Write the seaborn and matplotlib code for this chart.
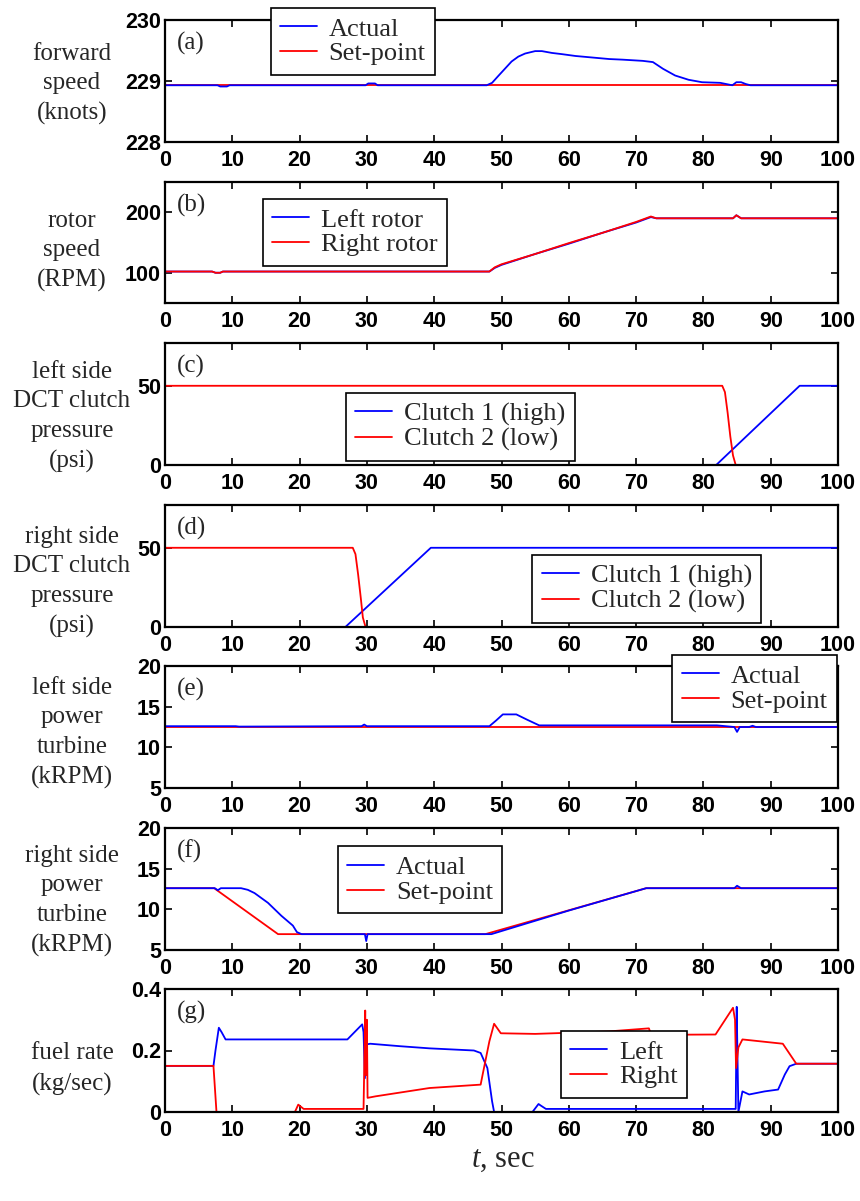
import matplotlib
matplotlib.use("Agg")
import matplotlib.pyplot as plt
import seaborn as sns

# ---- data ----
# (a) forward speed, knots
a_t = [0, 7.8, 8.2, 9.2, 9.6, 29.8, 30.2, 31.2, 31.6, 47.8, 48.6, 49.5, 50.5, 51.5, 52.5,
       53.5, 55, 56, 57.5, 59, 61, 63, 66, 68, 71, 72.5, 74, 75.8, 77.8, 79.8, 82.5, 84.3,
       84.9, 85.6, 86.3, 87, 100]
a_actual = [228.93, 228.93, 228.91, 228.91, 228.93, 228.93, 228.96, 228.96, 228.93, 228.93,
            228.97, 229.08, 229.2, 229.32, 229.4, 229.45, 229.49, 229.49, 229.46, 229.44,
            229.41, 229.39, 229.36, 229.35, 229.33, 229.31, 229.2, 229.09, 229.02, 228.98,
            228.97, 228.93, 228.98, 228.98, 228.95, 228.93, 228.93]
a_sp_t = [0, 100]
a_setpoint = [228.93, 228.93]

# (b) rotor speed, RPM
b_t = [0, 7.0, 7.5, 8.2, 8.6, 48.2, 49, 50, 55, 60, 65, 70, 72.2, 73, 84.4, 84.9, 85.6, 100]
b_left = [102, 102, 100, 100, 102, 102, 108, 113, 131, 148, 166, 183, 192, 190, 190, 195, 190, 190]
b_right = [102, 102, 100, 100, 102, 102, 109, 114, 131, 149, 166, 184, 193, 190, 190, 195, 190, 190]

# (c) left side DCT clutch pressure, psi
c_t1 = [0, 81.9, 94.3, 100]
c_clutch1 = [0, 0, 50, 50]
c_t2 = [0, 82.8, 83.2, 83.6, 84.0, 84.4, 84.8, 100]
c_clutch2 = [50, 50, 46, 33, 18, 6, 0, 0]

# (d) right side DCT clutch pressure, psi
d_t1 = [0, 26.8, 39.5, 100]
d_clutch1 = [0, 0, 50, 50]
d_t2 = [0, 27.9, 28.3, 28.7, 29.1, 29.4, 29.8, 100]
d_clutch2 = [50, 50, 46, 33, 18, 6, 0, 0]

# (e) left side power turbine, kRPM
e_t = [0, 10.5, 11, 29.2, 29.6, 30.0, 48.2, 49.2, 50.2, 52.2, 53.8, 55.6, 82.0, 84.6, 85.0,
       85.4, 86.8, 87.3, 87.8, 100]
e_actual = [12.6, 12.6, 12.55, 12.6, 12.8, 12.6, 12.6, 13.3, 14.05, 14.05, 13.4, 12.7, 12.7,
            12.5, 11.9, 12.5, 12.5, 12.65, 12.5, 12.5]
e_sp_t = [0, 100]
e_setpoint = [12.5, 12.5]

# (f) right side power turbine, kRPM
f_t = [0, 7.4, 7.85, 8.3, 11.3, 12.3, 13.3, 15.3, 17.3, 19.0, 19.6, 20.3, 29.7, 29.9, 30.1,
       48.5, 60, 71.5, 84.6, 85.0, 85.6, 100]
f_actual = [12.6, 12.6, 12.35, 12.6, 12.6, 12.4, 12.0, 10.8, 9.2, 8.0, 7.2, 6.95, 6.95, 6.1,
            6.95, 6.95, 9.85, 12.6, 12.6, 12.9, 12.6, 12.6]
f_sp_t = [0, 7.3, 16.8, 47.6, 71.5, 100]
f_setpoint = [12.6, 12.6, 6.95, 6.95, 12.6, 12.6]

# (g) fuel rate, kg/sec
g_t_left = [0, 7.2, 7.5, 8.0, 8.4, 9.0, 27.1, 29.3, 29.5, 29.7, 30.0, 30.5, 34.9, 39.3, 45.9,
            46.9, 47.9, 48.6, 48.9, 54.6, 55.5, 55.9, 56.6, 84.8, 84.95, 85.05, 85.2, 85.8,
            86.8, 89.1, 91.1, 92.1, 92.8, 93.8, 100]
g_left = [0.15, 0.15, 0.2, 0.274, 0.26, 0.236, 0.236, 0.285, 0.26, 0.11, 0.22, 0.222, 0.214,
          0.207, 0.2, 0.192, 0.143, 0.035, 0, 0, 0.026, 0.02, 0.01, 0.01, 0.342, 0.2, 0.0,
          0.067, 0.057, 0.067, 0.073, 0.122, 0.149, 0.157, 0.157]
g_t_right = [0, 7.2, 7.65, 19.3, 19.8, 20.6, 29.5, 29.75, 29.85, 30.0, 30.1, 31.3, 39.3, 46.9,
             47.2, 48.2, 48.9, 49.9, 55, 65.9, 71.9, 72.3, 72.8, 81.8, 84.4, 84.7, 84.85, 85.2,
             85.8, 91.8, 93.8, 100]
g_right = [0.15, 0.15, 0, 0, 0.024, 0.01, 0.01, 0.33, 0.12, 0.3, 0.046, 0.051, 0.078, 0.089,
           0.122, 0.23, 0.287, 0.256, 0.254, 0.262, 0.272, 0.248, 0.251, 0.252, 0.339, 0.3,
           0.143, 0.21, 0.236, 0.222, 0.157, 0.157]

xticks = list(range(0, 101, 10))

# ---- style ----
sns.set_theme(style="ticks")
plt.rcParams["font.family"] = ["Liberation Serif", "DejaVu Serif"]
plt.rcParams["mathtext.fontset"] = "custom"
plt.rcParams["mathtext.it"] = "Liberation Serif:italic"
plt.rcParams["mathtext.rm"] = "Liberation Serif"

W, H = 860, 1201
fig = plt.figure(figsize=(W / 100, H / 100), dpi=100)
fig.patch.set_facecolor("white")

BLUE = "#0000ff"
RED = "#ff0000"
LW = 1.3


def make_ax(top, bottom, left=165, right=838):
    return fig.add_axes([left / W, 1 - bottom / H, (right - left) / W, (bottom - top) / H])


def style_ax(ax, ylim, yticks, yticklabels=None):
    ax.set_xlim(0, 100)
    ax.set_ylim(*ylim)
    ax.set_xticks(xticks)
    ax.set_yticks(yticks)
    if yticklabels is not None:
        ax.set_yticklabels(yticklabels)
    ax.set_xlabel("")
    ax.set_ylabel("")
    for s in ax.spines.values():
        s.set_visible(True)
        s.set_linewidth(1.6)
        s.set_color("black")
    ax.tick_params(direction="in", length=5, width=1.2, top=True, right=True,
                   colors="black", labelsize=15.5)
    ax.tick_params(axis="x", pad=6)
    ax.tick_params(axis="y", pad=3)
    for lab in ax.get_xticklabels() + ax.get_yticklabels():
        lab.set_family(["Liberation Sans", "DejaVu Sans"])
        lab.set_fontweight("bold")
    ax.grid(False)


def add_legend(ax, order, anchor):
    h, l = ax.get_legend_handles_labels()
    idx = [l.index(o) for o in order]
    leg = ax.legend([h[i] for i in idx], [l[i] for i in idx], loc="upper left",
                    bbox_to_anchor=anchor, fontsize=19, frameon=True, fancybox=False,
                    framealpha=1, edgecolor="black", borderpad=0.35, labelspacing=0.05,
                    handlelength=1.4, handletextpad=0.45, borderaxespad=0)
    leg.get_frame().set_linewidth(1.2)
    leg.set_zorder(10)


def letter(ax, s):
    ax.text(0.018, 0.81, s, transform=ax.transAxes, fontsize=18, va="center", ha="left")


def ylab(text, yc):
    fig.text(72 / W, 1 - yc / H, text, ha="center", va="center", fontsize=18,
             linespacing=1.45)


def line(ax, t, v, color, label):
    sns.lineplot(x=t, y=v, ax=ax, color=color, lw=LW, estimator=None, sort=False, label=label)


# (a)
ax = make_ax(20, 142)
line(ax, a_sp_t, a_setpoint, RED, "Set-point")
line(ax, a_t, a_actual, BLUE, "Actual")
style_ax(ax, (228, 230), [228, 229, 230])
add_legend(ax, ["Actual", "Set-point"], (0.157, 1.10))
letter(ax, "(a)")
ylab("forward\nspeed\n(knots)", 84)

# (b)
ax = make_ax(182, 303)
line(ax, b_t, b_left, BLUE, "Left rotor")
line(ax, b_t, b_right, RED, "Right rotor")
style_ax(ax, (50, 250), [100, 200])
add_legend(ax, ["Left rotor", "Right rotor"], (0.145, 0.86))
letter(ax, "(b)")
ylab("rotor\nspeed\n(RPM)", 251)

# (c)
ax = make_ax(343, 465)
line(ax, c_t1, c_clutch1, BLUE, "Clutch 1 (high)")
line(ax, c_t2, c_clutch2, RED, "Clutch 2 (low)")
style_ax(ax, (0, 77), [0, 50])
add_legend(ax, ["Clutch 1 (high)", "Clutch 2 (low)"], (0.269, 0.59))
letter(ax, "(c)")
ylab("left side\nDCT clutch\npressure\n(psi)", 417)

# (d)
ax = make_ax(505, 627)
line(ax, d_t1, d_clutch1, BLUE, "Clutch 1 (high)")
line(ax, d_t2, d_clutch2, RED, "Clutch 2 (low)")
style_ax(ax, (0, 77), [0, 50])
add_legend(ax, ["Clutch 1 (high)", "Clutch 2 (low)"], (0.546, 0.59))
letter(ax, "(d)")
ylab("right side\nDCT clutch\npressure\n(psi)", 582)

# (e)
ax = make_ax(666, 788)
line(ax, e_sp_t, e_setpoint, RED, "Set-point")
line(ax, e_t, e_actual, BLUE, "Actual")
style_ax(ax, (5, 20), [5, 10, 15, 20])
add_legend(ax, ["Actual", "Set-point"], (0.754, 1.09))
letter(ax, "(e)")
ylab("left side\npower\nturbine\n(kRPM)", 733)

# (f)
ax = make_ax(828, 950)
line(ax, f_sp_t, f_setpoint, RED, "Set-point")
line(ax, f_t, f_actual, BLUE, "Actual")
style_ax(ax, (5, 20), [5, 10, 15, 20])
add_legend(ax, ["Actual", "Set-point"], (0.257, 0.85))
letter(ax, "(f)")
ylab("right side\npower\nturbine\n(kRPM)", 901)

# (g)
ax = make_ax(989, 1112)
line(ax, g_t_left, g_left, BLUE, "Left")
line(ax, g_t_right, g_right, RED, "Right")
style_ax(ax, (0, 0.4), [0, 0.2, 0.4], ["0", "0.2", "0.4"])
add_legend(ax, ["Left", "Right"], (0.588, 0.66))
letter(ax, "(g)")
ylab("fuel rate\n(kg/sec)", 1069)

fig.text(503 / W, 1 - 1160 / H, r"$\mathit{t}$, sec", ha="center", va="center", fontsize=22)

fig.savefig("out.png", dpi=100)
